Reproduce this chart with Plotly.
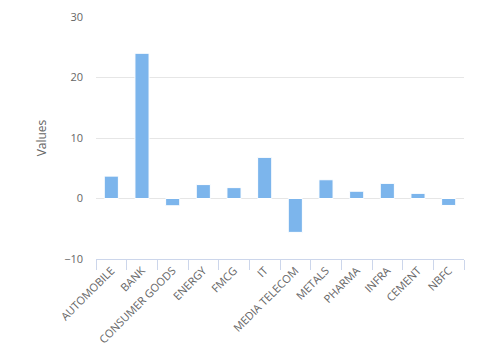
import plotly.graph_objects as go

categories = ["AUTOMOBILE", "BANK", "CONSUMER GOODS", "ENERGY", "FMCG", "IT",
              "MEDIA TELECOM", "METALS", "PHARMA", "INFRA", "CEMENT", "NBFC"]
values = [3.7, 24.0, -1.2, 2.3, 1.8, 6.8, -5.6, 3.1, 1.2, 2.5, 0.85, -1.15]
y_ticks = [-10, 0, 10, 20, 30]

fig = go.Figure(go.Bar(
    x=categories, y=values, width=0.46,
    marker=dict(color="#7cb5ec", line=dict(color="#ffffff", width=1)),
))

fig.update_layout(
    width=499, height=351,
    margin=dict(l=96, r=35, t=17, b=92),
    paper_bgcolor="white", plot_bgcolor="white",
    font=dict(family="Open Sans, DejaVu Sans, sans-serif", size=11, color="#666666"),
    showlegend=False,
    bargap=0.5,
)
fig.update_xaxes(
    type="category", tickangle=-45, tickson="boundaries", automargin=False,
    ticks="outside", ticklen=10, tickcolor="#ccd6eb", tickwidth=1,
    showline=True, linecolor="#ccd6eb", linewidth=1,
    showgrid=False, tickfont=dict(size=11, color="#666666"),
)
fig.update_yaxes(
    range=[-10, 30], tickvals=y_ticks, automargin=False,
    showgrid=True, gridcolor="#e6e6e6", gridwidth=1,
    zeroline=True, zerolinecolor="#e6e6e6", zerolinewidth=1,
    ticklabelstandoff=12,
    title=dict(text="Values", font=dict(size=12, color="#666666"), standoff=14),
)

fig.write_html("out.html")
